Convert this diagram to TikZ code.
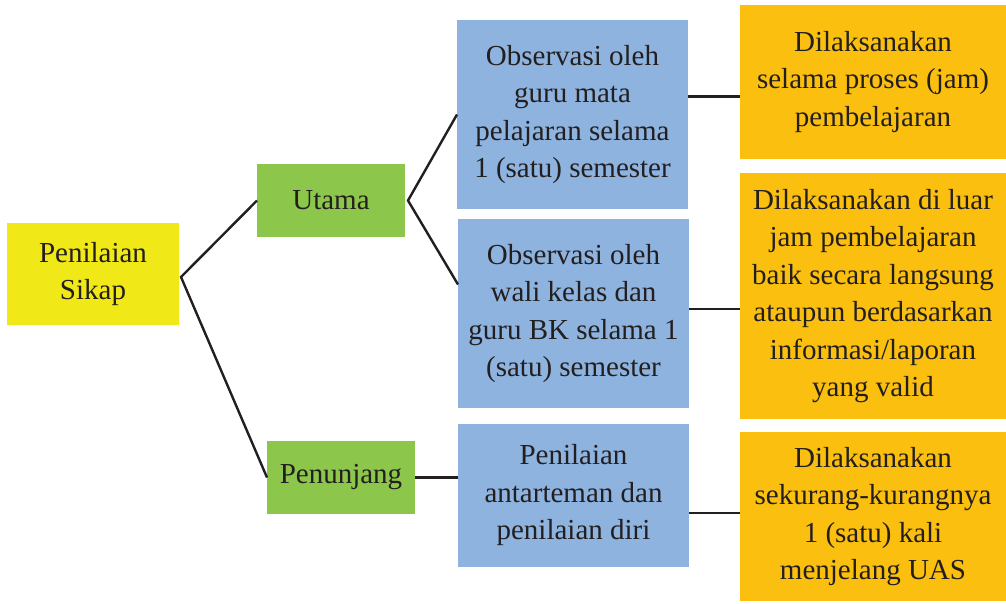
\documentclass[tikz,border=0pt]{standalone}
\usepackage{fontspec}
\setmainfont{LiberationSerif}[Extension=.ttf,UprightFont=*-Regular]
\usetikzlibrary{calc,positioning}
\definecolor{sikapyellow}{HTML}{F0E817}
\definecolor{kindgreen}{HTML}{8CC74B}
\definecolor{obsblue}{HTML}{8DB3DE}
\definecolor{timeorange}{HTML}{FBBF0F}
\definecolor{inkdark}{HTML}{231F20}
\begin{document}
\begin{tikzpicture}[x=1pt,y=-1pt,
  block/.style={rectangle,inner sep=0pt,outer sep=0pt,align=center,text=inkdark,
    font=\fontsize{29}{37.5}\selectfont},
  root/.style={block,fill=sikapyellow,minimum width=172pt,minimum height=102pt},
  kind/.style={block,fill=kindgreen,minimum width=148pt,minimum height=73pt},
  obs/.style={block,fill=obsblue,minimum width=231pt},
  when/.style={block,fill=timeorange,minimum width=266pt},
  link/.style={draw=inkdark,line width=2.4pt}]

        \useasboundingbox (0,0) rectangle (1006,603);

        \node[root] (P) at (93,274) {Penilaian\\Sikap};
        \node[kind] (U) at (331,200.5) {Utama};
        \node[kind] (N) at (341,477.5) {Penunjang};

        \node[obs,minimum height=189pt] (B1) at (572.5,114.5) {Observasi oleh\\guru mata\\pelajaran selama\\1 (satu) semester};
        \node[obs,minimum height=189pt] (B2) at (573.5,313.5) {Observasi oleh\\wali kelas dan\\guru BK selama 1\\(satu) semester};
        \node[obs,minimum height=143pt] (B3) at (573.5,495.5) {Penilaian\\antarteman dan\\penilaian diri};

        \node[when,minimum height=154pt] (O1) at (873,82) {Dilaksanakan\\selama proses (jam)\\pembelajaran};
        \node[when,minimum height=246pt] (O2) at (873,296) {Dilaksanakan di luar\\jam pembelajaran\\baik secara langsung\\ataupun berdasarkan\\informasi/laporan\\yang valid};
        \node[when,minimum height=169pt] (O3) at (873,516.5) {Dilaksanakan\\sekurang-kurangnya\\1 (satu) kali\\menjelang UAS};

        \draw[link] (U.west) -- ([xshift=2pt,yshift=-3pt]P.east) -- (N.west);
        \draw[link] (B1.west) -- ([xshift=3pt]U.east) -- ([yshift=29pt]B2.west);
        \draw[link] (N.east) -- (N.east -| B3.west);

        \draw[link] ([yshift=18pt]B1.east) coordinate (e1) -- (e1 -| O1.west);
        \draw[link] ([yshift=4.5pt]B2.east) coordinate (e2) -- (e2 -| O2.west);
        \draw[link] ([yshift=-17.5pt]B3.east) coordinate (e3) -- (e3 -| O3.west);
      \end{tikzpicture}
\end{document}
